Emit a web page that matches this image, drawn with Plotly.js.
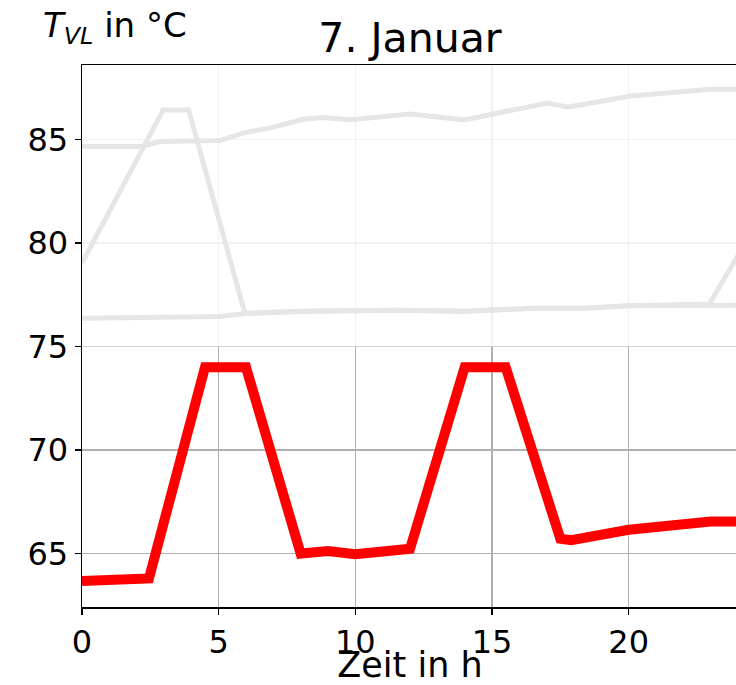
<!DOCTYPE html>
<html>
<head>
<meta charset="utf-8">
<script src="https://cdn.plot.ly/plotly-3.0.1.min.js"></script>
<style>
html,body{margin:0;padding:0;overflow:hidden;background:#fff;}
#chart{width:738px;height:685px;}
</style>
</head>
<body>
<div id="chart"></div>
<script>
// Red line: 7. Januar
const redHours = [0, 2.2, 2.45, 4.5, 6.0, 8.0, 9.0, 10.0, 11.0, 12.0, 14.0, 15.5, 17.5, 17.9, 20.0, 23.0, 24.0];
const redTemp  = [63.68, 63.68, 63.8, 74.0, 74.0, 65.0, 65.12, 64.97, 65.1, 65.23, 74.0, 74.0, 65.72, 65.65, 66.15, 66.55, 66.55];

// Gray reference lines (other days)
const grayAHours = [0, 2.97, 3.9, 5.96, 8.0, 11.5, 14.0, 16.5, 18.4, 20.0, 22.95, 24.0];
const grayATemp  = [79.03, 86.43, 86.43, 76.6, 76.7, 76.75, 76.7, 76.85, 76.85, 76.97, 77.05, 79.4];

const grayBHours = [0, 2.1, 5.0, 6.0, 8.2, 11.6, 14.0, 16.5, 18.4, 20.0, 23.0, 24.0];
const grayBTemp  = [76.37, 76.4, 76.45, 76.6, 76.7, 76.75, 76.7, 76.85, 76.85, 76.97, 77.0, 77.0];

const grayCHours = [0, 2.18, 2.85, 5.05, 5.85, 7.0, 8.1, 8.8, 9.8, 11.3, 12.0, 13.97, 17.03, 17.76, 20.08, 23.0, 24.0];
const grayCTemp  = [84.66, 84.66, 84.9, 84.95, 85.3, 85.6, 85.98, 86.06, 85.95, 86.11, 86.23, 85.95, 86.76, 86.56, 87.1, 87.43, 87.43];

const xTicks = [0, 5, 10, 15, 20];
const yTicks = [65, 70, 75, 80, 85];

const FONT = "DejaVu Sans, sans-serif";
const grayStyle = {color: '#e6e6e6', width: 5};

const traces = [
  {x: grayAHours, y: grayATemp, mode: 'lines', line: grayStyle, hoverinfo: 'skip'},
  {x: grayBHours, y: grayBTemp, mode: 'lines', line: grayStyle, hoverinfo: 'skip'},
  {x: grayCHours, y: grayCTemp, mode: 'lines', line: grayStyle, hoverinfo: 'skip'},
  {x: redHours, y: redTemp, mode: 'lines', line: {color: '#ff0000', width: 10}}
];

const H = 685, T = 65, B = 78;
const plotH = H - T - B;
const py = p => 1 + (T - p) / plotH;

const layout = {
  width: 738, height: 685,
  margin: {l: 82, r: 0, t: T, b: B, pad: 0},
  paper_bgcolor: '#fff', plot_bgcolor: '#fff',
  showlegend: false,
  font: {family: FONT, color: '#000'},
  title: {text: '7. Januar', font: {family: FONT, size: 41, color: '#000'},
          x: 0.5, xref: 'paper', xanchor: 'center',
          y: 1 - 52/685, yref: 'container', yanchor: 'bottom'},
  xaxis: {
    range: [0, 24], tickvals: xTicks, ticktext: xTicks.map(String),
    showgrid: true, gridcolor: '#b0b0b0', gridwidth: 1.2,
    zeroline: false, showline: true, mirror: true, linecolor: '#000', linewidth: 1.5,
    ticks: 'outside', ticklen: 6, tickwidth: 1.3, tickcolor: '#000',
    tickfont: {family: FONT, size: 32, color: '#000'},
    title: {text: 'Zeit in h', font: {family: FONT, size: 35, color: '#000'}, standoff: 3}
  },
  yaxis: {
    range: [62.42, 88.6], tickvals: yTicks, ticktext: yTicks.map(String),
    showgrid: true, gridcolor: '#b0b0b0', gridwidth: 1.2,
    zeroline: false, showline: true, mirror: true, linecolor: '#000', linewidth: 1.5,
    ticks: 'outside', ticklen: 6, tickwidth: 1.3, tickcolor: '#000',
    tickfont: {family: FONT, size: 32, color: '#000'}
  },
  shapes: [
    {type: 'rect', xref: 'x', yref: 'y', x0: 0, x1: 24, y0: 75, y1: 88.6,
     fillcolor: 'rgba(255,255,255,0.82)', line: {width: 0}, layer: 'between'}
  ],
  annotations: [
    {text: '<i>T</i><sub><i>VL</i></sub> in °C', xref: 'paper', yref: 'paper',
     x: -41/656, y: py(3), xanchor: 'left', yanchor: 'top', showarrow: false,
     font: {family: FONT, size: 34, color: '#000'}}
  ]
};

Plotly.newPlot('chart', traces, layout, {displayModeBar: false, staticPlot: true});
</script>
</body>
</html>
